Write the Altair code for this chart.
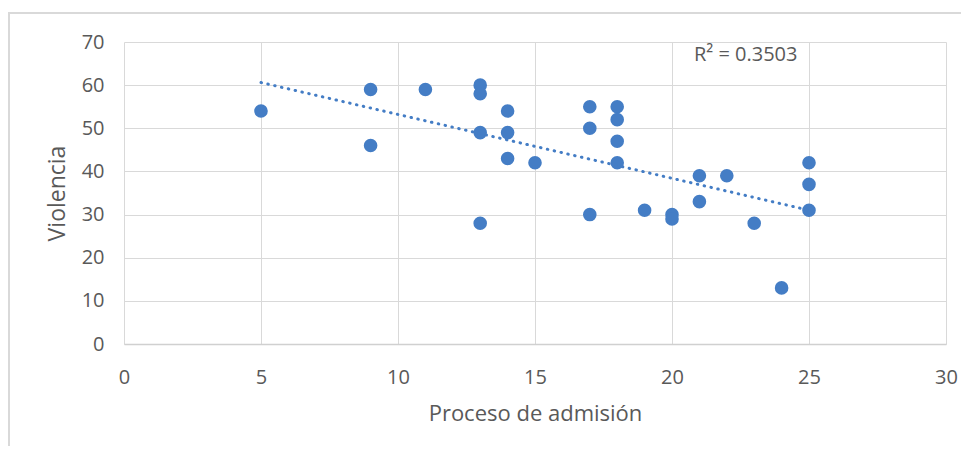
import altair as alt
import pandas as pd

admision = [5, 9, 9, 11, 13, 13, 13, 13, 14, 14, 14, 15, 17, 17, 17,
            18, 18, 18, 18, 19, 20, 20, 21, 21, 22, 23, 24, 25, 25, 25]
violencia = [54, 59, 46, 59, 60, 58, 49, 28, 54, 49, 43, 42, 55, 50, 30,
             55, 52, 47, 42, 31, 30, 29, 39, 33, 39, 28, 13, 42, 37, 31]
r2_label = ["R² = 0.3503"]

df = pd.DataFrame({"x": admision, "y": violencia})

FONT = "Open Sans"
TXT = "#595959"
BLUE = "#447dc5"

xs = alt.Scale(domain=[0, 30], nice=False, zero=True)
ys = alt.Scale(domain=[0, 70], nice=False, zero=True)

base = alt.Chart(df)

points = base.mark_circle(size=185, opacity=1, color=BLUE).encode(
    x=alt.X("x:Q", scale=xs,
            axis=alt.Axis(title="Proceso de admisión", values=[0, 5, 10, 15, 20, 25, 30],
                          labelPadding=23, titlePadding=16, titleFontSize=22,
                          labelFlush=False)),
    y=alt.Y("y:Q", scale=ys,
            axis=alt.Axis(title="Violencia", values=[0, 10, 20, 30, 40, 50, 60, 70],
                          labelPadding=20, titlePadding=12, titleFontSize=23,
                          labelFlush=False)),
)

trend = base.transform_regression("x", "y").mark_line(
    color=BLUE, strokeWidth=3, strokeDash=[0.5, 6.5], strokeCap="round"
).encode(x=alt.X("x:Q", scale=xs), y=alt.Y("y:Q", scale=ys))

r2 = alt.Chart(pd.DataFrame({"t": r2_label, "x": [20.8], "y": [66.9]})).mark_text(
    align="left", baseline="middle", font=FONT, fontSize=20, color=TXT
).encode(x=alt.X("x:Q", scale=xs), y=alt.Y("y:Q", scale=ys), text="t:N")

frame_top = alt.Chart(df).mark_rule(color="#d9d9d9", strokeWidth=2, clip=False).encode(
    x=alt.value(-116), x2=alt.value(900), y=alt.value(-29))
frame_left = alt.Chart(df).mark_rule(color="#d9d9d9", strokeWidth=2, clip=False).encode(
    x=alt.value(-115), y=alt.value(-29), y2=alt.value(420))

chart = alt.layer(frame_top, frame_left, points, trend, r2).properties(
    width=822, height=302,
    autosize=alt.AutoSizeParams(type="none"),
    padding={"left": 116, "top": 34, "right": 15, "bottom": 102},
).configure_view(stroke=None).configure_axis(
    grid=True, gridColor="#d9d9d9", gridWidth=1,
    domain=True, domainColor="#d0d0d0", domainWidth=1.5,
    ticks=False,
    labelFont=FONT, labelFontSize=20, labelColor=TXT,
    titleFont=FONT, titleColor=TXT, titleFontWeight="normal",
).configure_axisY(domain=False)

chart.save("out.html", embed_options={"renderer": "svg", "actions": False})
